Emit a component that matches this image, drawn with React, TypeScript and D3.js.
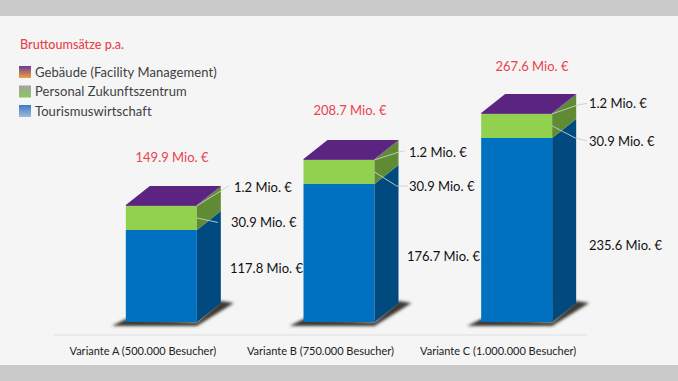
import React from "react";
import * as d3 from "d3";

const categories = ["Variante A (500.000 Besucher)", "Variante B (750.000 Besucher)", "Variante C (1.000.000 Besucher)"];
const tourism = [117.8, 176.7, 235.6];
const personal = [30.9, 30.9, 30.9];
const building = [1.2, 1.2, 1.2];
const totals = [149.9, 208.7, 267.6];
const seriesKeys = ["tourism", "personal", "building"];
const legendNames = ["Gebäude (Facility Management)", "Personal Zukunftszentrum", "Tourismuswirtschaft"];

const FONT = "Lato, 'Open Sans', sans-serif";
const rows = categories.map((c, i) => ({ c, tourism: tourism[i], personal: personal[i], building: building[i] }));
const stack = d3.stack<any>().keys(seriesKeys)(rows);

const x = d3.scaleBand().domain(categories).range([54, 587]).paddingInner(0.6).paddingOuter(0.3);
const y = d3.scaleLinear().domain([0, 300]).range([322, 322 - 300 * 0.781]);

const BAR_SHIFT = 18.5;
const DX = 24;
const DY = 19;
const front = { tourism: "#0070c0", personal: "#92d050", building: "#5a2480" } as Record<string, string>;
const side = { tourism: "#004a80", personal: "#618a35", building: "#4a2a6a" } as Record<string, string>;
const RED = "#e9434d";

const fmt = (v: number) => `${v.toFixed(1)} Mio. €`;
const labelX = [
  [230, 231, 234],
  [407, 409, 409],
  [589, 589, 589],
];
const labelY = [
  [268, 222, 187],
  [256, 186, 152],
  [245, 141, 103],
];
const totalCx = [172, 350, 532];
const totalDy = [29, 30, 28];
const leaderBuilding = [[24, -15, 32, -20], [25, -8, 30, -9], [26, -9, 35, -10.5]];
const leaderPersonal = [[21, 4.5, 21, 4.5], [22, 14, 33, 14], [23, 12, 35, 15]];

export default function App() {
  const line = d3.line();
  return (
    <svg width={678} height={381} style={{ position: "absolute", left: 0, top: 0, display: "block" }} fontFamily={FONT}>
      <defs>
        <linearGradient id="lg0" x1="0" y1="0" x2="0" y2="1">
          <stop offset="0" stopColor="#6b3a96" />
          <stop offset="1" stopColor="#f0a33c" />
        </linearGradient>
        <linearGradient id="lg1" x1="0" y1="0" x2="0" y2="1">
          <stop offset="0" stopColor="#a3a3a3" />
          <stop offset="1" stopColor="#8cc85a" />
        </linearGradient>
        <linearGradient id="lg2" x1="0" y1="0" x2="0" y2="1">
          <stop offset="0" stopColor="#3a7cc4" />
          <stop offset="1" stopColor="#a3b8d8" />
        </linearGradient>
        <filter id="sh" x="-30%" y="-50%" width="160%" height="200%">
          <feGaussianBlur stdDeviation="1.5" />
        </filter>
      </defs>
      <rect width={678} height={381} fill="#f5f5f5" />
      <rect width={678} height={16} fill="#cacaca" />
      <rect y={365} width={678} height={16} fill="#cacaca" />

      <text x={20} y={48.5} fontSize={12.6} fontWeight={500} fill={RED}>Bruttoumsätze p.a.</text>
      {legendNames.map((n, i) => (
        <g key={n}>
          <rect x={19} y={66 + i * 19.5} width={12} height={12} fill={`url(#lg${i})`} />
          <text x={35} y={76.5 + i * 19.5} fontSize={13} letterSpacing={0.08} fill="#404040">{n}</text>
        </g>
      ))}

      <line x1={54} x2={587} y1={335} y2={335} stroke="#dedede" />

      {categories.map((c, i) => {
        const x0 = x(c)! + BAR_SHIFT + (x.bandwidth() - 71) / 2;
        const x1 = x0 + 71;
        return (
          <g key={c}>
            <path
              d={`M${x0 - 14},${y(0) + 4}L${x1},${y(0) + 4}L${x1 + DX + 13},${y(0) - DY}L${x1 + DX},${y(0) - DY - 2}L${x1},${y(0)}L${x0},${y(0) - 3}Z`}
              fill="#3c3732"
              filter="url(#sh)"
            />
            {stack.map((s) => {
              const d = s[i];
              const top = y(d[1]);
              const bottom = y(d[0]);
              return (
                <g key={s.key}>
                  <rect x={x0} y={top} width={71} height={bottom - top} fill={front[s.key]} />
                  <path d={`M${x1},${bottom}L${x1 + DX},${bottom - DY}L${x1 + DX},${top - DY}L${x1},${top}Z`} fill={side[s.key]} />
                </g>
              );
            })}
            <path
              d={`M${x0},${y(totals[i])}L${x1},${y(totals[i])}L${x1 + DX},${y(totals[i]) - DY}L${x0 + DX},${y(totals[i]) - DY}Z`}
              fill={front.building}
            />
            <path
              d={line([
                [x1, y(stack[1][i][1])],
                [x1 + leaderBuilding[i][0], y(stack[1][i][1]) + leaderBuilding[i][1]],
                [x1 + leaderBuilding[i][2], y(stack[1][i][1]) + leaderBuilding[i][3]],
              ])!}
              fill="none"
              stroke="#c4d4c4"
              strokeWidth={0.9}
            />
            <path
              d={line([
                [x1, (y(stack[1][i][0]) + y(stack[1][i][1])) / 2],
                [x1 + leaderPersonal[i][0], (y(stack[1][i][0]) + y(stack[1][i][1])) / 2 + leaderPersonal[i][1]],
                [x1 + leaderPersonal[i][2], (y(stack[1][i][0]) + y(stack[1][i][1])) / 2 + leaderPersonal[i][3]],
              ])!}
              fill="none"
              stroke="#c4d4c4"
              strokeWidth={0.9}
            />
            <text x={x(c)! + x.bandwidth() / 2} y={354.5} textAnchor="middle" fontSize={11} fill="#222">{c}</text>
            <text x={totalCx[i]} y={y(totals[i]) - DY - totalDy[i] + 5} textAnchor="middle" fontSize={13} fill={RED}>{fmt(totals[i])}</text>
            {[tourism[i], personal[i], building[i]].map((v, k) => (
              <text key={k} x={labelX[i][k]} y={labelY[i][k] + 5} fontSize={13} fill="#111">{fmt(v)}</text>
            ))}
          </g>
        );
      })}
    </svg>
  );
}
